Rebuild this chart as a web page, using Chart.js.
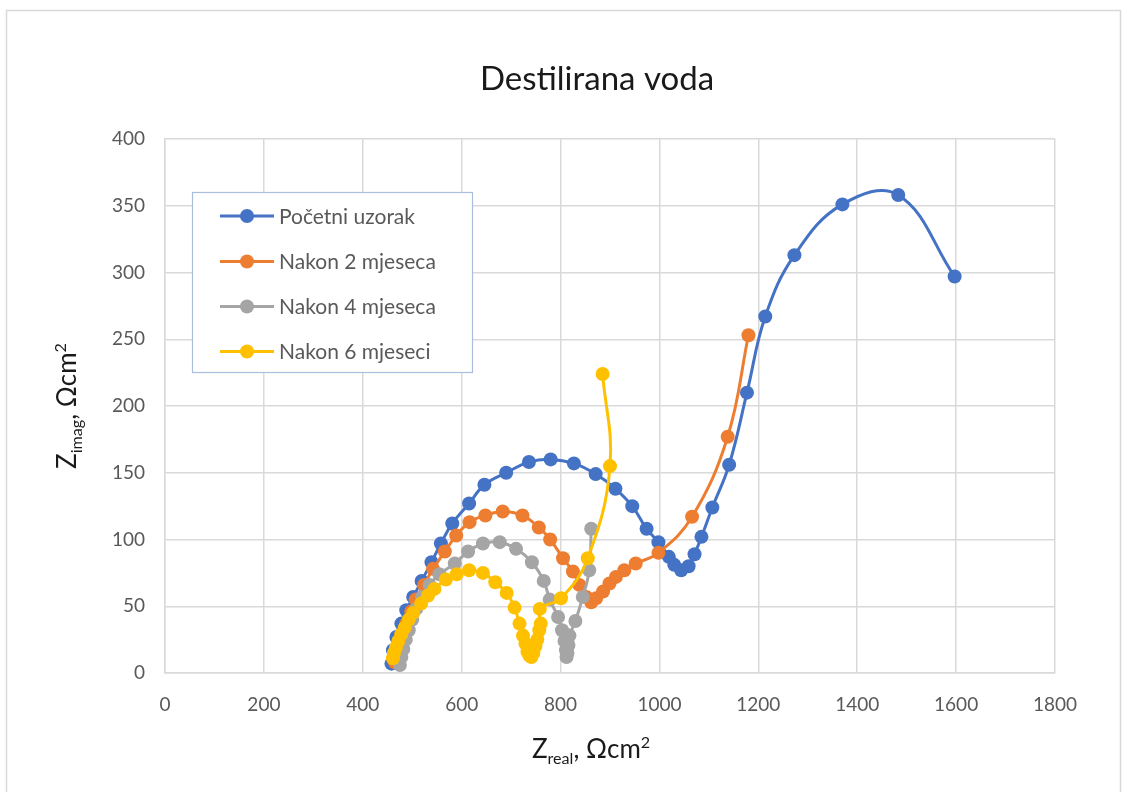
<!DOCTYPE html>
<html>
<head>
<meta charset="utf-8">
<script src="https://cdn.jsdelivr.net/npm/chart.js@4"></script>
<style>
  html, body { margin: 0; padding: 0; background: #fff; }
  #wrap { width: 1126px; height: 792px; }
</style>
</head>
<body>
<div id="wrap"><canvas id="nyquistChart"></canvas></div>
<script>
// Nyquist plot - Destilirana voda
const chartTitle = 'Destilirana voda';
const seriesNames = ['Početni uzorak', 'Nakon 2 mjeseca', 'Nakon 4 mjeseca', 'Nakon 6 mjeseci'];
const seriesColors = ['#4472C4', '#ED7D31', '#A5A5A5', '#FFC000'];

// Početni uzorak
const blueX = [458, 461, 468, 478, 488, 502, 519, 539, 558, 581, 615, 646, 690, 736, 780, 827, 871, 911, 945, 974, 998, 1019, 1030, 1044, 1059, 1071, 1085, 1107, 1141, 1177, 1214, 1273, 1370, 1483, 1597];
const blueY = [7, 17, 27, 37, 47, 57, 69, 83, 97, 112, 127, 141, 150, 158, 160, 157, 149, 138, 125, 108, 98, 87, 81, 77, 80, 89, 102, 124, 156, 210, 267, 313, 351, 358, 297];

// Nakon 2 mjeseca
const orangeX = [465, 470, 478, 488, 498, 507, 524, 542, 566, 589, 616, 648, 683, 723, 756, 779, 805, 825, 838, 852, 862, 872, 886, 899, 912, 929, 952, 998, 1066, 1138, 1180];
const orangeY = [8, 18, 28, 37, 46, 55, 66, 78, 91, 103, 113, 118, 121, 118, 109, 100, 86, 76, 66, 57, 53, 56, 61, 67, 72, 77, 82, 90, 117, 177, 253];

// Nakon 4 mjeseca
const grayX = [475, 478, 482, 487, 493, 500, 508, 520, 535, 555, 586, 613, 643, 677, 710, 742, 766, 778, 795, 803, 808, 811, 812, 814, 816, 818, 830, 845, 858, 862];
const grayY = [6, 12, 18, 25, 32, 40, 48, 57, 66, 74, 82, 91, 97, 98, 93, 83, 69, 55, 42, 32, 24, 17, 12, 15, 21, 28, 39, 57, 77, 108];

// Nakon 6 mjeseci
const yellowX = [461, 463, 467, 472, 478, 485, 493, 502, 518, 532, 545, 568, 590, 615, 643, 668, 691, 707, 717, 724, 729, 733, 737, 741, 745, 749, 753, 757, 760, 758, 801, 855, 900, 885];
const yellowY = [11, 15, 19, 24, 29, 34, 40, 45, 52, 58, 63, 70, 74, 77, 75, 68, 60, 49, 37, 28, 22, 16, 13, 12, 15, 20, 25, 32, 37, 48, 56, 86, 155, 224];

const xTicks = [0, 200, 400, 600, 800, 1000, 1200, 1400, 1600, 1800];
const yTicks = [0, 50, 100, 150, 200, 250, 300, 350, 400];

const fontFamily = 'Lato, "Open Sans", "Liberation Sans", sans-serif';
const textGray = '#595959';

function toPoints(xs, ys) {
    return xs.map((x, i) => ({ x: x, y: ys[i] }));
}

const allX = [blueX, orangeX, grayX, yellowX];
const allY = [blueY, orangeY, grayY, yellowY];

const datasets = seriesNames.map((name, i) => ({
    label: name,
    data: toPoints(allX[i], allY[i]),
    showLine: true,
    borderColor: seriesColors[i],
    backgroundColor: seriesColors[i],
    pointBackgroundColor: seriesColors[i],
    pointBorderColor: seriesColors[i],
    borderWidth: 3,
    pointRadius: 7,
    pointBorderWidth: 0,
    tension: 0.4,
    order: 4 - i
}));

// draw text with sub/superscript parts
function drawRich(ctx, parts, size) {
    let total = 0;
    parts.forEach(p => {
        ctx.font = (p.s === 'n' ? size : size * 0.62) + 'px ' + fontFamily;
        p.w = ctx.measureText(p.t).width;
        total += p.w;
    });
    let x = -total / 2;
    parts.forEach(p => {
        ctx.font = (p.s === 'n' ? size : size * 0.62) + 'px ' + fontFamily;
        let dy = 0;
        if (p.s === 'sub') dy = size * 0.22;
        if (p.s === 'sup') dy = -size * 0.38;
        ctx.fillText(p.t, x, dy);
        x += p.w;
    });
}

const decorPlugin = {
    id: 'decor',
    beforeDraw(chart) {
        const ctx = chart.ctx;
        ctx.save();
        ctx.fillStyle = '#fff';
        ctx.fillRect(0, 0, chart.width, chart.height);
        ctx.strokeStyle = '#d9d9d9';
        ctx.lineWidth = 1.5;
        ctx.strokeRect(6.5, 10.5, 1114, 800);
        ctx.restore();
    },
    afterDraw(chart) {
        const ctx = chart.ctx;
        ctx.save();
        // title
        ctx.fillStyle = '#1a1a1a';
        ctx.font = '33px ' + fontFamily;
        ctx.textAlign = 'center';
        ctx.textBaseline = 'middle';
        ctx.fillText(chartTitle, 597, 79);

        // axis titles
        ctx.fillStyle = '#1a1a1a';
        ctx.textAlign = 'left';
        ctx.textBaseline = 'alphabetic';
        ctx.save();
        ctx.translate(591, 758);
        drawRich(ctx, [{ t: 'Z', s: 'n' }, { t: 'real', s: 'sub' }, { t: ', Ωcm', s: 'n' }, { t: '2', s: 'sup' }], 26);
        ctx.restore();
        ctx.save();
        ctx.translate(76, 406);
        ctx.rotate(-Math.PI / 2);
        drawRich(ctx, [{ t: 'Z', s: 'n' }, { t: 'imag', s: 'sub' }, { t: ', Ωcm', s: 'n' }, { t: '2', s: 'sup' }], 26);
        ctx.restore();

        // legend box
        const lx = 192.5, ly = 192.5, lw = 280, lh = 180;
        ctx.fillStyle = '#fff';
        ctx.fillRect(lx, ly, lw, lh);
        ctx.strokeStyle = '#A9BEDF';
        ctx.lineWidth = 1.2;
        ctx.strokeRect(lx, ly, lw, lh);
        const rows = [216, 261.5, 306.5, 351.5];
        chart.data.datasets.forEach((ds, i) => {
            const y = rows[i];
            ctx.strokeStyle = ds.borderColor;
            ctx.lineWidth = 3;
            ctx.beginPath();
            ctx.moveTo(220, y);
            ctx.lineTo(274, y);
            ctx.stroke();
            ctx.fillStyle = ds.borderColor;
            ctx.beginPath();
            ctx.arc(247, y, 7, 0, Math.PI * 2);
            ctx.fill();
            ctx.fillStyle = textGray;
            ctx.font = '21px ' + fontFamily;
            ctx.textBaseline = 'middle';
            ctx.fillText(ds.label, 279, y + 1);
        });
        ctx.restore();
    }
};

new Chart(document.getElementById('nyquistChart'), {
    type: 'scatter',
    data: { datasets: datasets },
    options: {
        responsive: true,
        maintainAspectRatio: false,
        animation: false,
        layout: { padding: { left: 0, top: 139, right: 71, bottom: 0 } },
        scales: {
            x: {
                type: 'linear',
                min: 0,
                max: 1800,
                afterBuildTicks: scale => { scale.ticks = xTicks.map(v => ({ value: v })); },
                afterFit: scale => { scale.height = 119; },
                grid: { color: '#d9d9d9', lineWidth: 1.5, drawTicks: false },
                border: { color: '#d9d9d9', width: 1.5 },
                ticks: { color: textGray, font: { family: fontFamily, size: 19 }, padding: 20, callback: v => String(v) }
            },
            y: {
                type: 'linear',
                min: 0,
                max: 400,
                afterBuildTicks: scale => { scale.ticks = yTicks.map(v => ({ value: v })); },
                afterFit: scale => { scale.width = 165; },
                grid: { color: '#d9d9d9', lineWidth: 1.5, drawTicks: false },
                border: { color: '#d9d9d9', width: 1.5 },
                ticks: { color: textGray, font: { family: fontFamily, size: 19 }, padding: 20, callback: v => String(v) }
            }
        },
        plugins: {
            legend: { display: false },
            title: { display: false },
            tooltip: { enabled: false }
        }
    },
    plugins: [decorPlugin]
});
</script>
</body>
</html>
